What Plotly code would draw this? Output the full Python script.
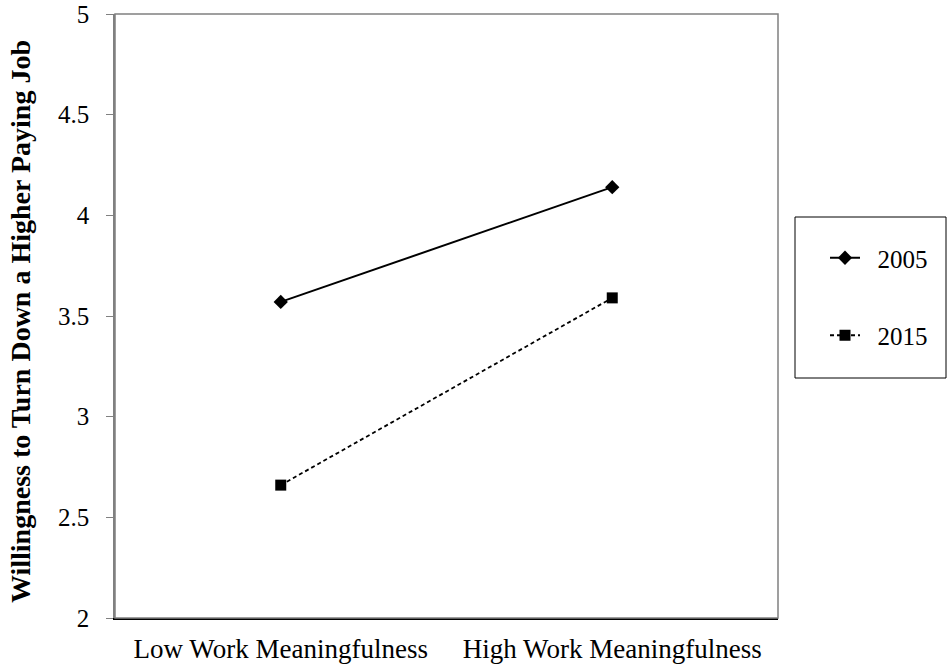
import plotly.graph_objects as go

# Data
categories = ["Low Work Meaningfulness", "High Work Meaningfulness"]
values_2005 = [3.57, 4.14]
values_2015 = [2.66, 3.59]
series_names = ["2005", "2015"]
y_ticks = [2, 2.5, 3, 3.5, 4, 4.5, 5]
y_tick_labels = ["2", "2.5", "3", "3.5", "4", "4.5", "5"]

serif = "Liberation Serif"
pad = "&nbsp;&nbsp;"  # small gap between legend symbol and text

fig = go.Figure()

fig.add_trace(go.Scatter(
    x=categories, y=values_2005, name=pad + series_names[0], legendgroup="a",
    mode="lines+markers",
    line=dict(color="black", width=2),
    marker=dict(symbol="diamond", size=11, color="black"),
))
fig.add_trace(go.Scatter(
    x=categories, y=values_2015, name=pad + series_names[1], legendgroup="b",
    mode="lines+markers",
    line=dict(color="black", width=1.8, dash="4px,3px"),
    marker=dict(symbol="square", size=11, color="black"),
))

# gray frame around the plot area
fig.add_shape(type="rect", xref="paper", yref="paper", x0=0, y0=0, x1=1, y1=1,
              line=dict(color="#808080", width=1.5), layer="above")
# legend box
fig.add_shape(type="rect", xref="paper", yref="paper",
              x0=(795 - 115) / 663, x1=(946 - 115) / 663,
              y0=(618 - 378) / 604, y1=(618 - 217) / 604,
              line=dict(color="black", width=1))

# y axis title
fig.add_annotation(
    text="<b>Willingness to Turn Down a Higher Paying Job</b>",
    xref="paper", yref="paper", x=-95 / 663, y=0.49,
    xanchor="center", yanchor="middle",
    textangle=-90, showarrow=False,
    font=dict(family=serif, size=28, color="black"),
)

fig.update_layout(
    width=951, height=667,
    margin=dict(l=115, r=173, t=14, b=49),
    plot_bgcolor="white", paper_bgcolor="white",
    font=dict(family=serif, size=25, color="black"),
    showlegend=True,
    legend=dict(
        x=(825 - 115) / 663, xanchor="left", y=(618 - 235) / 604, yanchor="top",
        bgcolor="rgba(0,0,0,0)", borderwidth=0,
        font=dict(family=serif, size=25),
        tracegroupgap=42,
    ),
)

fig.update_xaxes(
    type="category", range=[-0.5, 1.5],
    showgrid=False, zeroline=False, automargin=False,
    showline=True, linecolor="black", linewidth=1.5,
    ticks="", ticklabelstandoff=6,
    tickfont=dict(family=serif, size=27),
)
fig.update_yaxes(
    range=[2, 5], tickvals=y_ticks, ticktext=y_tick_labels,
    showgrid=False, zeroline=False, automargin=False,
    showline=True, linecolor="#808080", linewidth=1.5,
    ticks="outside", ticklen=7, tickcolor="#808080",
    ticklabelstandoff=12, ticklabeloverflow="allow",
    tickfont=dict(family=serif, size=25),
)

# drop the default page margin so the figure fills the window
fig.write_html("out.html",
               config={"displayModeBar": False},
               post_script="document.body.style.margin='0';"
                           "document.documentElement.style.overflow='hidden';")
